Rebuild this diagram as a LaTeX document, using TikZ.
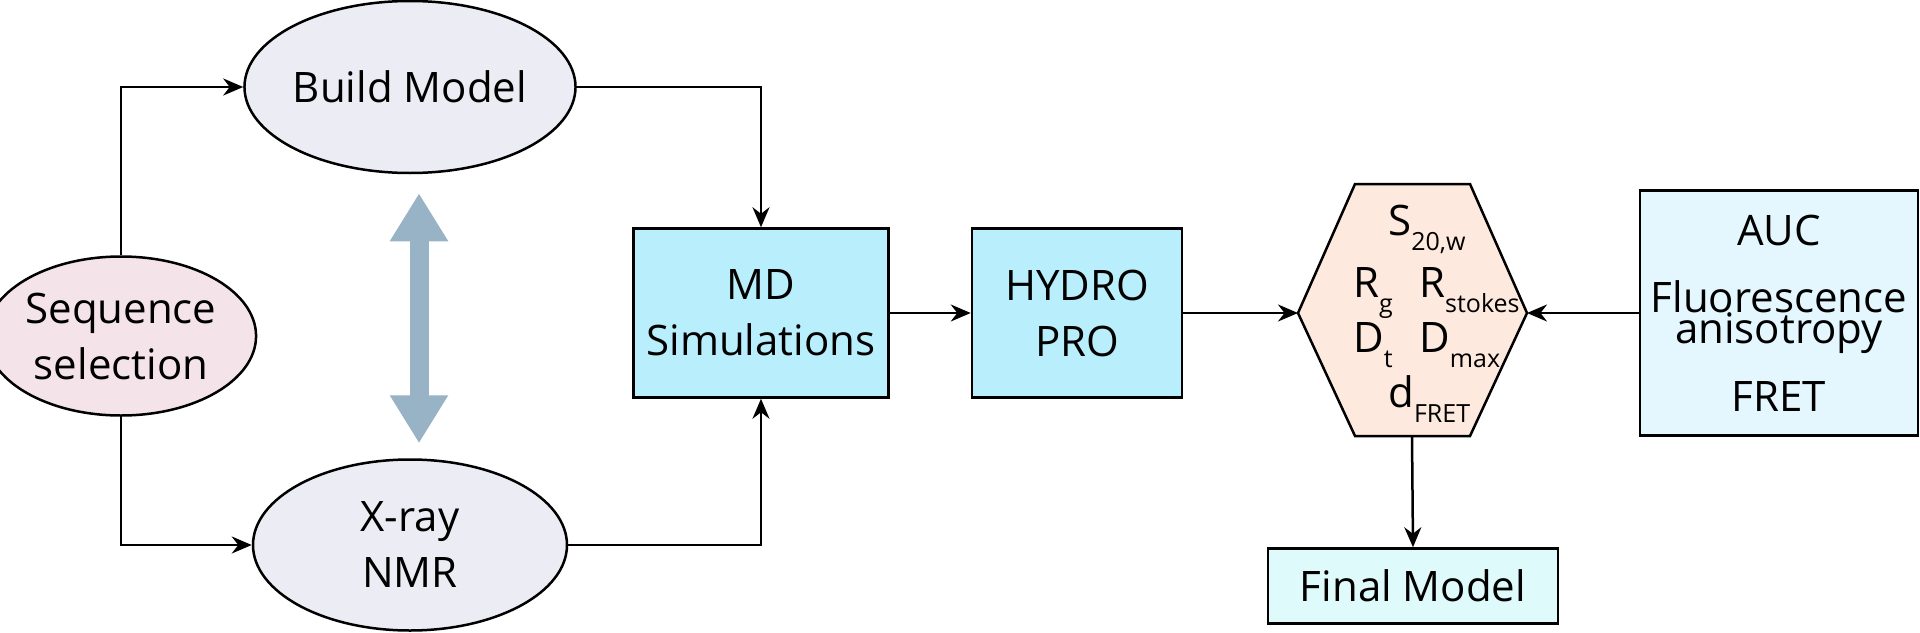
\documentclass[tikz,border=0pt]{standalone}
\usepackage{fontspec}
\setmainfont{Open Sans}
\usetikzlibrary{arrows.meta,shapes.geometric}
\definecolor{modelfill}{HTML}{ECEDF4}
\definecolor{seqfill}{HTML}{F4E4EA}
\definecolor{simfill}{HTML}{B9EFFC}
\definecolor{hexfill}{HTML}{FDE9DD}
\definecolor{expfill}{HTML}{E4F7FE}
\definecolor{finalfill}{HTML}{DEFAFB}
\definecolor{swapcol}{HTML}{98B2C6}
\newcommand{\lsub}[1]{\raisebox{-15pt}{\fontsize{25}{25}\selectfont #1}}
\begin{document}
\begin{tikzpicture}[x=1pt, y=-1pt, >={Stealth[length=20pt,width=17pt]}, line width=2.5pt,
  every node/.style={font=\fontsize{42}{56}\selectfont, inner sep=0pt},
  oval/.style={draw, ellipse, fill=modelfill, align=center},
  simbox/.style={draw, rectangle, fill=simfill, align=center},
  param/.style={anchor=base west}]
  \useasboundingbox (0,0) rectangle (1920,632);
  % modelling pipeline
  \node[oval, fill=seqfill, minimum width=238pt, minimum height=159pt] (seq) at (121,336) {Sequence\\selection};
  \node[oval, minimum width=314pt, minimum height=172pt] (build) at (410,87) {Build Model};
  \node[oval, minimum width=314pt, minimum height=171pt] (xray) at (410,545) {X-ray\\NMR};
  \node[simbox, minimum width=255pt, minimum height=169pt] (md) at (761,313) {MD\\Simulations};
  \node[simbox, minimum width=210pt, minimum height=169pt] (hydro) at (1077,313) {HYDRO\\PRO};
  \node[draw, fill=expfill, align=center, minimum width=278pt, minimum height=245pt,
    font={\fontsize{42}{31}\selectfont\lineskiplimit=-50pt}] (exp) at (1779,313)
    {AUC\\[36pt]Fluorescence\\anisotropy\\[37pt]FRET};
  \node[draw, fill=finalfill, minimum width=290pt, minimum height=75pt] (final) at (1413,586) {Final Model};

  % hexagon of parameters
  \coordinate (hexL) at (1298,313);
  \coordinate (hexR) at (1527,313);
  \coordinate (hexB) at (1412,436);
  \draw[fill=hexfill] (hexL) -- (1355,184) -- (1470,184) -- (hexR) -- (1470,436) -- (1355,436) -- cycle;
  \node[param] (sw) at (1387,235) {S\lsub{20,w}};
  \node[param] (rg) at (1352,297) {R\lsub{g}};
  \node[param] (rs) at (1418,297) {R\lsub{stokes}};
  \node[param] (dt) at (1352,352) {D\lsub{t}};
  \node[param] (dm) at (1418,352) {D\lsub{max}};
  \node[param] (df) at (1387,407) {d\lsub{FRET}};

  \draw[->] (seq.north) |- (build.west);
  \draw[->] (seq.south) |- (xray.west);
  \draw[->] (build.east) -| (md.north);
  \draw[->] (xray.east) -| (md.south);
  \draw[->] (md) -- (hydro);
  \draw[->] (hydro.east) -- (hexL);
  \draw[->] (exp.west) -- (hexR);
  \draw[->] (hexB) -- (final.north);
  \draw[swapcol, line width=19pt, {Triangle[length=48pt,width=55pt]}-{Triangle[length=48pt,width=55pt]},
    shorten <=19pt, shorten >=15pt] ([xshift=9pt]build.south) -- ([xshift=9pt]xray.north);
\end{tikzpicture}
\end{document}
